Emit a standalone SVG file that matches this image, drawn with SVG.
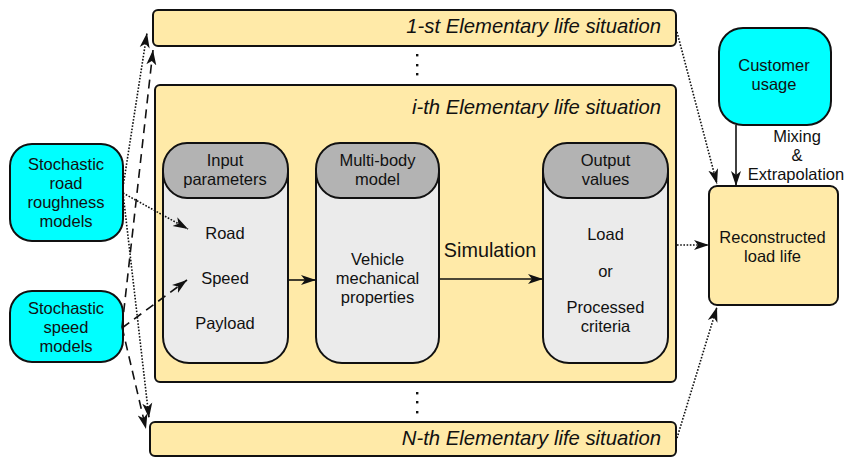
<svg xmlns="http://www.w3.org/2000/svg" width="852" height="458" viewBox="0 0 852 458">
<style>
text{font-family:"Liberation Sans",Arial,sans-serif;font-size:16.5px;fill:#111;}
.c{text-anchor:middle;}
.t{font-style:italic;font-size:20.3px;text-anchor:end;}
.sim{font-size:19.8px;text-anchor:middle;}
.y{fill:#ffeaa8;stroke:#111;stroke-width:2;}
.cy{fill:#00ffff;stroke:#111;stroke-width:2;}
.body{fill:#ebebeb;stroke:#111;stroke-width:2;}
.cap{fill:#b3b3b3;stroke:#111;stroke-width:2;}
.ln{fill:none;stroke:#111;stroke-width:1.6;}
.dot{stroke-dasharray:1.6 1.6;}
.dash{stroke-dasharray:9 6;}
</style>
<defs>
<marker id="ah" markerUnits="userSpaceOnUse" markerWidth="16" markerHeight="12" refX="15" refY="6" orient="auto">
<path d="M0,1 L15,6 L0,11 L4,6 Z" fill="#111"/>
</marker>
</defs>

<g id="sit1">
<rect class="y" x="153" y="10" width="523" height="36" rx="5"/>
<text class="t" x="661" y="33">1-st Elementary life situation</text>
</g>
<g id="vdots-top" fill="#111">
<rect x="416" y="54" width="2.4" height="2.4"/>
<rect x="416" y="64" width="2.4" height="2.4"/>
<rect x="416" y="73" width="2.4" height="2.4"/>
</g>
<g id="siti">
<rect class="y" x="155" y="85" width="521" height="297" rx="5"/>
<text class="t" x="661" y="114">i-th Elementary life situation</text>
</g>
<g id="vdots-bottom" fill="#111">
<rect x="416" y="392" width="2.4" height="2.4"/>
<rect x="416" y="401" width="2.4" height="2.4"/>
<rect x="416" y="411" width="2.4" height="2.4"/>
</g>
<g id="sitN">
<rect class="y" x="150" y="422" width="526" height="34" rx="5"/>
<text class="t" x="661" y="445">N-th Elementary life situation</text>
</g>

<g id="input">
<path class="body" d="M163,170 V337 A26,26 0 0 0 189,363 H262 A26,26 0 0 0 288,337 V170 Z"/>
<rect class="cap" x="163" y="143" width="125" height="55" rx="24" ry="26"/>
<text class="c" x="225" y="166">Input</text>
<text class="c" x="225" y="185">parameters</text>
<text class="c" x="225" y="239">Road</text>
<text class="c" x="225" y="284">Speed</text>
<text class="c" x="225" y="329">Payload</text>
</g>

<g id="multibody">
<path class="body" d="M316,170 V337 A26,26 0 0 0 342,363 H413 A26,26 0 0 0 439,337 V170 Z"/>
<rect class="cap" x="316" y="143" width="123" height="55" rx="24" ry="26"/>
<text class="c" x="377.5" y="166">Multi-body</text>
<text class="c" x="377.5" y="185">model</text>
<text class="c" x="377.5" y="265">Vehicle</text>
<text class="c" x="377.5" y="284">mechanical</text>
<text class="c" x="377.5" y="303">properties</text>
</g>

<g id="output">
<path class="body" d="M543,170 V337 A26,26 0 0 0 569,363 H642 A26,26 0 0 0 668,337 V170 Z"/>
<rect class="cap" x="543" y="143" width="125" height="55" rx="24" ry="26"/>
<text class="c" x="605.5" y="166">Output</text>
<text class="c" x="605.5" y="185">values</text>
<text class="c" x="605.5" y="240">Load</text>
<text class="c" x="605.5" y="277">or</text>
<text class="c" x="605.5" y="313">Processed</text>
<text class="c" x="605.5" y="332">criteria</text>
</g>

<g id="road">
<rect class="cy" x="10" y="144" width="113" height="97" rx="22"/>
<text class="c" x="66" y="170">Stochastic</text>
<text class="c" x="66" y="189">road</text>
<text class="c" x="66" y="208">roughness</text>
<text class="c" x="66" y="227">models</text>
</g>

<g id="speed">
<rect class="cy" x="10" y="291" width="113" height="71" rx="22"/>
<text class="c" x="66" y="314">Stochastic</text>
<text class="c" x="66" y="333">speed</text>
<text class="c" x="66" y="352">models</text>
</g>

<g id="customer">
<rect class="cy" x="719" y="28" width="112" height="97" rx="24"/>
<text class="c" x="774" y="71">Customer</text>
<text class="c" x="774" y="90">usage</text>
</g>

<g id="reconstructed">
<rect class="y" x="709" y="186" width="129" height="119" rx="8"/>
<text class="c" x="772.5" y="243">Reconstructed</text>
<text class="c" x="772.5" y="262">load life</text>
</g>

<g id="connectors">
<path class="ln" d="M288,280 H316" marker-end="url(#ah)"/>
<path class="ln" d="M439,279 H543" marker-end="url(#ah)"/>
<text class="sim" x="490" y="257">Simulation</text>
<path class="ln" d="M736,125 V186" marker-end="url(#ah)"/>
<text class="c" x="797" y="142">Mixing</text>
<text class="c" x="797" y="161">&amp;</text>
<text class="c" x="796" y="180">Extrapolation</text>
<path class="ln dot" d="M677,32 L717,184" marker-end="url(#ah)"/>
<path class="ln dot" d="M677,245 H709" marker-end="url(#ah)"/>
<path class="ln dot" d="M677,438 L717,307" marker-end="url(#ah)"/>
<path class="ln dot" d="M123,187 L147,33" marker-end="url(#ah)"/>
<path class="ln dot" d="M123,193 L188,229" marker-end="url(#ah)"/>
<path class="ln dot" d="M123,193 L149,418" marker-end="url(#ah)"/>
<path class="ln dash" d="M122,327 L153,50" marker-end="url(#ah)"/>
<path class="ln dash" d="M122,328 L187,280" marker-end="url(#ah)"/>
<path class="ln dash" d="M122,327 L146,429" marker-end="url(#ah)"/>
</g>
</svg>
